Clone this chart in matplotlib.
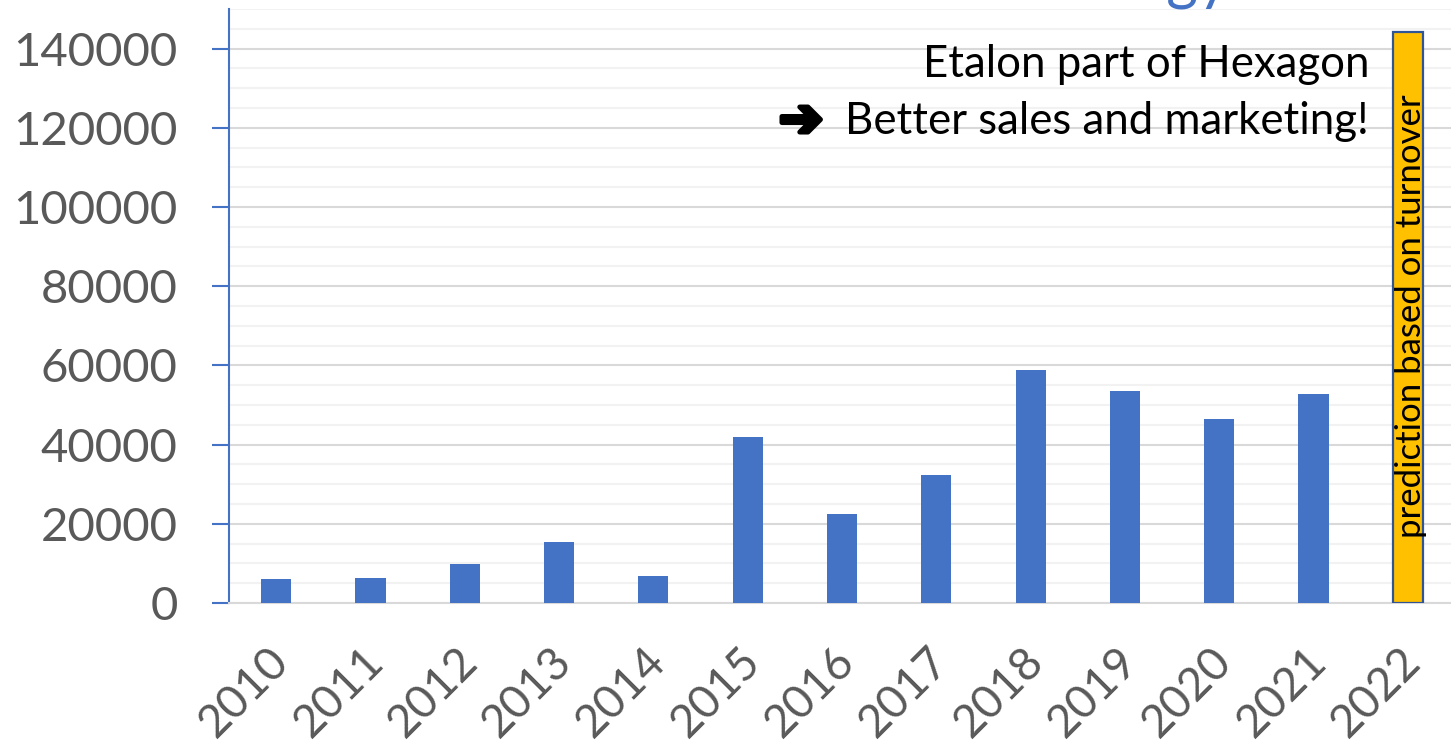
import numpy as np
import matplotlib.pyplot as plt
from matplotlib.ticker import MultipleLocator
import matplotlib.transforms as mtransforms
import matplotlib.patheffects as pe

# Data
years = ['2010', '2011', '2012', '2013', '2014', '2015', '2016',
         '2017', '2018', '2019', '2020', '2021', '2022']
values = [6100, 6400, 9800, 15300, 6800, 41900, 22400,
          32300, 58800, 53600, 46500, 52900]
prediction_2022 = 144100

blue = '#4472C4'
gray_text = '#595959'

plt.rcParams['font.family'] = ['Lato', 'DejaVu Sans']

fig = plt.figure(figsize=(14.51, 7.47), dpi=100)
ax = fig.add_axes([229 / 1451, 144 / 747, 1226 / 1451, 594 / 747])

x = np.arange(len(years))
ax.bar(x[:len(values)], values, width=0.32, color=blue, zorder=3)
ax.bar(x[-1], prediction_2022, width=0.32, color='#FFC000',
       edgecolor='#2F5597', linewidth=1.6, zorder=3)

ax.set_xlim(-0.5, len(years) - 0.5)
ax.set_ylim(0, 150000)

# y axis and grid
ax.yaxis.set_minor_locator(MultipleLocator(5000))
ax.set_yticks(np.arange(0, 140001, 20000))
ax.grid(axis='y', which='major', color='#D9D9D9', linewidth=1.5, zorder=0)
ax.grid(axis='y', which='minor', color='#F2F2F2', linewidth=1.5, zorder=0)
ax.tick_params(axis='y', which='major', length=12, width=1.5, color=blue,
               labelsize=34, labelcolor=gray_text, pad=25)
ax.tick_params(axis='y', which='minor', length=0)

for s in ['top', 'right']:
    ax.spines[s].set_visible(False)
ax.spines['left'].set_color(blue)
ax.spines['left'].set_linewidth(1.5)
ax.spines['bottom'].set_color('#D9D9D9')
ax.spines['bottom'].set_linewidth(1.5)

# x tick labels, rotated
ax.set_xticks(x)
ax.set_xticklabels(years, rotation=45, ha='right', va='center',
                   rotation_mode='anchor', fontsize=33, color=gray_text)
ax.tick_params(axis='x', length=0, pad=37)
offset = mtransforms.ScaledTranslation(6 / 100, 0, fig.dpi_scale_trans)
for lab in ax.get_xticklabels():
    lab.set_transform(lab.get_transform() + offset)

# annotations
ax.text(11.59, 132900, 'Etalon part of Hexagon', ha='right', va='baseline',
        fontsize=31.5, color='black', zorder=5)
ax.text(11.59, 118500, 'Better sales and marketing!', ha='right',
        va='baseline', fontsize=31.5, color='black', zorder=5)
ax.text(5.80, 121700, '\u2794', ha='right', va='center', fontsize=38,
        family='DejaVu Sans', color='black', zorder=5,
        path_effects=[pe.withStroke(linewidth=3.5, foreground='black')])
ax.text(x[-1] + 0.03, 72400, 'prediction based on turnover', rotation=90,
        ha='center', va='center', fontsize=25, color='black', zorder=5)

# title, mostly outside the visible area
fig.text(1230 / 1451, 1.004, 'Etalon technology', ha='right', va='baseline',
         fontsize=44, color=blue)

fig.savefig('out.png', dpi=100)
